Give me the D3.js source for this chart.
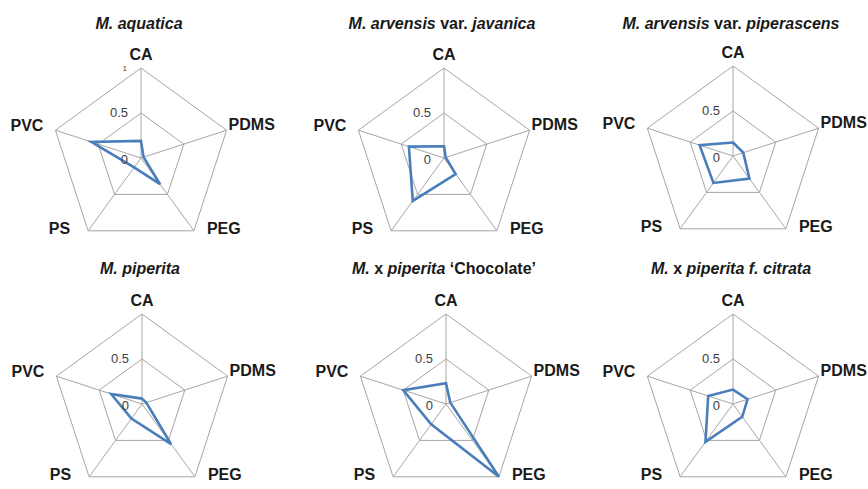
<!DOCTYPE html>
<html>
<head>
<meta charset="utf-8">
<script src="https://cdn.jsdelivr.net/npm/d3@7"></script>
<style>
  html, body { margin: 0; padding: 0; background: #fff; }
  svg { display: block; }
  text { font-family: "Liberation Sans", Arial, sans-serif; }
</style>
</head>
<body>
<svg id="chart" width="868" height="489"></svg>
<script>
// Radar axes (clockwise from the top)
const axes = ["CA", "PDMS", "PEG", "PS", "PVC"];

// Ring levels and their labels
const ringLevels = [0.5, 1];
const tickLabels = ["0", "0.5", "1"];

// Normalised values per species, in axis order
const aquatica    = [0.19, 0.03, 0.36, 0.13, 0.58];
const javanica    = [0.13, 0.02, 0.22, 0.59, 0.41];
const piperascens = [0.15, 0.12, 0.31, 0.37, 0.39];
const piperita    = [0.06, 0.05, 0.55, 0.20, 0.36];
const chocolate   = [0.23, 0.05, 1.00, 0.28, 0.50];
const citrata     = [0.16, 0.17, 0.175, 0.52, 0.29];

// Panel titles as styled runs (italic for the binomial parts)
const titles = [
  [["M. aquatica", true]],
  [["M. arvensis", true], [" var. ", false], ["javanica", true]],
  [["M. arvensis", true], [" var. ", false], ["piperascens", true]],
  [["M. piperita", true]],
  [["M.", true], [" x ", false], ["piperita", true], [" \u2018Chocolate\u2019", false]],
  [["M.", true], [" x ", false], ["piperita f. citrata", true]]
];

const seriesList = [aquatica, javanica, piperascens, piperita, chocolate, citrata];

// Panel placement
const panels = [
  { cx: 141, cy: 158, showTop: true },
  { cx: 444, cy: 158, showTop: false },
  { cx: 733, cy: 156, showTop: false },
  { cx: 142, cy: 404, showTop: false },
  { cx: 446, cy: 404, showTop: false },
  { cx: 733, cy: 404, showTop: false }
];

const R = 90;
const r = d3.scaleLinear().domain([0, 1]).range([0, R]);
const angle = d3.scalePoint().domain(axes).range([0, 2 * Math.PI * (axes.length - 1) / axes.length]);

const gridColor = "#a6a6a6";
const lineColor = "#4a7ebb";

const svg = d3.select("#chart");

function pt(a, v) {
  const t = angle(a) - Math.PI / 2;
  return [r(v) * Math.cos(t), r(v) * Math.sin(t)];
}

// label offsets relative to each outer vertex
const labelPlace = {
  CA:   { dx: 0,   dy: -12, anchor: "middle" },
  PDMS: { dx: 2,   dy: -4,  anchor: "start" },
  PEG:  { dx: 13,  dy: -1,  anchor: "start" },
  PS:   { dx: -18, dy: -1,  anchor: "end" },
  PVC:  { dx: -12, dy: -3,  anchor: "end" }
};

panels.forEach((p, k) => {
  const g = svg.append("g").attr("transform", `translate(${p.cx},${p.cy})`);

  // rings
  const ring = d3.lineRadial()
    .angle(d => angle(d))
    .curve(d3.curveLinearClosed);
  ringLevels.forEach(lv => {
    g.append("path")
      .attr("d", ring.radius(() => r(lv))(axes))
      .attr("fill", "none")
      .attr("stroke", gridColor)
      .attr("stroke-width", 1);
  });

  // spokes
  g.selectAll("line.spoke").data(axes).join("line")
    .attr("class", "spoke")
    .attr("x1", 0).attr("y1", 0)
    .attr("x2", d => pt(d, 1)[0])
    .attr("y2", d => pt(d, 1)[1])
    .attr("stroke", gridColor)
    .attr("stroke-width", 1);

  // data polygon
  const vals = seriesList[k];
  const poly = d3.lineRadial()
    .angle((d, i) => angle(axes[i]))
    .radius(d => r(d))
    .curve(d3.curveLinearClosed);
  g.append("path")
    .attr("d", poly(vals))
    .attr("fill", "none")
    .attr("stroke", lineColor)
    .attr("stroke-width", 2.6)
    .attr("stroke-linejoin", "miter");

  // tick labels on the CA axis
  const ticks = [0, 0.5, 1];
  ticks.forEach((tv, i) => {
    if (tv === 1 && !p.showTop) return;
    g.append("text")
      .attr("x", tv === 1 ? -14 : -13)
      .attr("y", -r(tv) + (tv === 0 ? 3 : 1))
      .attr("text-anchor", "end")
      .attr("dominant-baseline", "middle")
      .attr("font-size", tv === 1 ? 8 : 13)
      .attr("fill", "#404040")
      .text(tickLabels[i]);
  });

  // axis labels
  axes.forEach(a => {
    const [x, y] = pt(a, 1);
    const lp = labelPlace[a];
    g.append("text")
      .attr("x", x + lp.dx).attr("y", y + lp.dy)
      .attr("text-anchor", lp.anchor)
      .attr("dominant-baseline", "middle")
      .attr("font-size", 16)
      .attr("font-weight", "bold")
      .attr("fill", "#1a1a1a")
      .text(a);
  });

  // title
  const title = svg.append("text")
    .attr("x", p.cx - 2)
    .attr("y", p.cy < 300 ? 29 : 274)
    .attr("text-anchor", "middle")
    .attr("font-size", 16)
    .attr("font-weight", "bold")
    .attr("fill", "#1a1a1a");
  titles[k].forEach(([t, it]) => {
    title.append("tspan")
      .attr("font-style", it ? "italic" : "normal")
      .attr("xml:space", "preserve")
      .text(t);
  });
});
</script>
</body>
</html>
